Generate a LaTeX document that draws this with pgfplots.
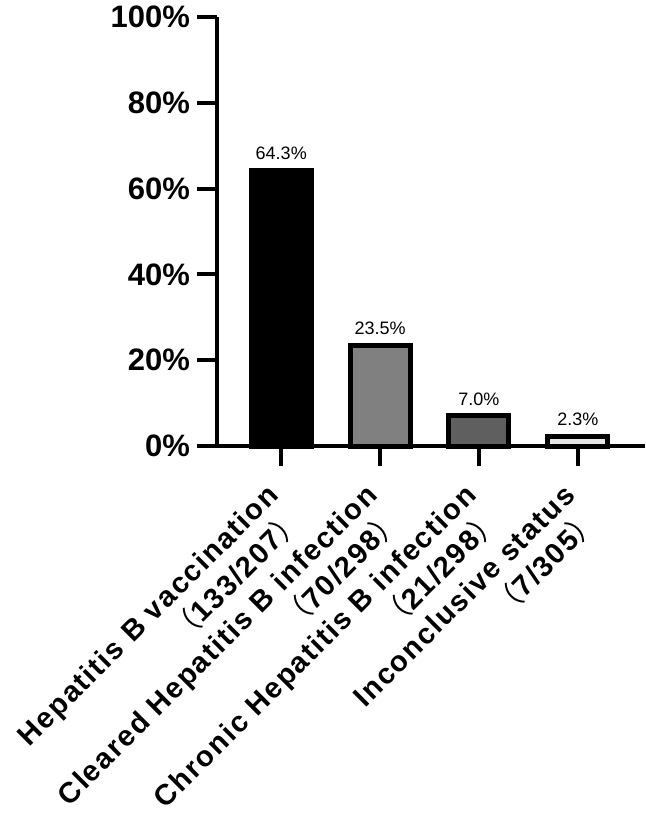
\documentclass[border=0pt]{standalone}
\usepackage{pgfplots}
\pgfplotsset{compat=1.18}
\usepackage{fontspec}
\setmainfont{Liberation Sans}
\newfontfamily\cjk{Noto Sans CJK SC}
\newcommand{\lp}{{\cjk\mdseries （}}
\newcommand{\rp}{{\cjk\mdseries ）}}
\definecolor{bargray}{HTML}{808080}
\definecolor{bardark}{HTML}{5F5F5F}
\definecolor{barlight}{HTML}{E6E6E6}
\begin{document}
\begin{tikzpicture}
% frame of the picture, same proportions as the reference
\path[use as bounding box] (-108.5pt,-187.5pt) rectangle (214.5pt,223pt);
\begin{axis}[
  at={(0,0)}, anchor=south west,
  scale only axis,
  width=214pt, height=214.5pt,
  ymin=0, ymax=100,
  xmin=-0.65, xmax=3.68,
  axis x line=bottom, axis y line=left,
  axis line style={-, line width=2pt},
  tick style={line width=2pt, black},
  major tick length=10pt,
  tick align=outside,
  ytick={0,20,...,100},
  yticklabel={\pgfmathprintnumber{\tick}\%},
  yticklabel style={font=\fontsize{15.5}{18}\selectfont\bfseries,
    /pgf/number format/assume math mode=true},
  xtick={0,1,2,3},
  xticklabels={{Hepatitis B vaccination\\\lp133/207\rp},
    {Cleared Hepatitis B infection\\\lp70/298\rp},
    {Chronic Hepatitis B infection\\\lp21/298\rp},
    {Inconclusive status\\\lp7/305\rp}},
  xticklabel style={xshift=-8pt, yshift=-5pt, rotate=45, anchor=north east, align=right,
    font=\fontsize{14.5}{17.5}\selectfont\bfseries\addfontfeature{LetterSpace=6},
    inner sep=2pt},
  ybar, bar width=30pt, bar shift=0pt,
  every axis plot/.append style={draw=black, line width=2.5pt},
  nodes near coords={\pgfmathprintnumber[fixed,fixed zerofill,precision=1]{\pgfplotspointmeta}\%},
  nodes near coords style={font=\fontsize{9}{10}\selectfont, text=black, inner sep=4pt,
    /pgf/number format/assume math mode=true},
  clip=false,
]
\addplot[fill=black] coordinates {(0,64.3)};
\addplot[fill=bargray] coordinates {(1,23.5)};
\addplot[fill=bardark] coordinates {(2,7.0)};
\addplot[fill=barlight] coordinates {(3,2.3)};
\end{axis}
\end{tikzpicture}
\end{document}
